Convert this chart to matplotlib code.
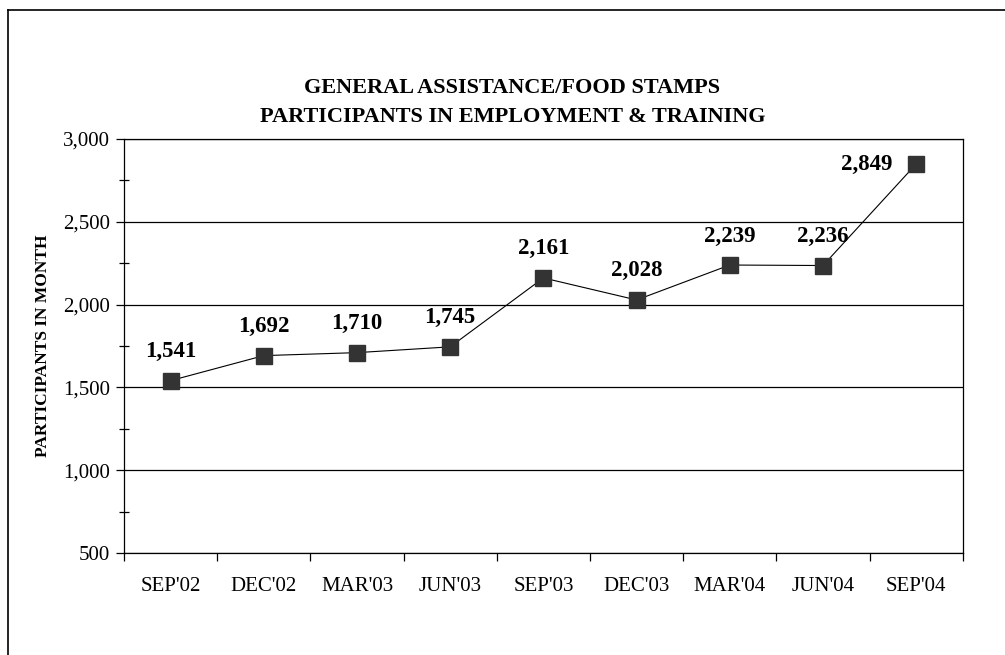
import matplotlib.pyplot as plt
from matplotlib.ticker import MultipleLocator, FixedLocator, FuncFormatter
from matplotlib.lines import Line2D

plt.rcParams["font.family"] = ["Liberation Serif", "DejaVu Serif"]

quarters = ["SEP'02", "DEC'02", "MAR'03", "JUN'03", "SEP'03",
            "DEC'03", "MAR'04", "JUN'04", "SEP'04"]
participants = [1541, 1692, 1710, 1745, 2161, 2028, 2239, 2236, 2849]

fig = plt.figure(figsize=(10.05, 6.55), dpi=100)
ax = fig.add_axes([0.1234, 0.1557, 0.8346, 0.6321])

# outer frame, only left and top edges are visible
fig.add_artist(Line2D([0.008, 0.008], [0.0, 0.985], transform=fig.transFigure, color="black", lw=1.2))
fig.add_artist(Line2D([0.008, 1.0], [0.985, 0.985], transform=fig.transFigure, color="black", lw=1.2))

x = list(range(len(quarters)))
ax.plot(x, participants, color="black", lw=0.8, marker="s", markersize=11.5,
        markerfacecolor="#333333", markeredgecolor="#333333", zorder=3)

for i, v in enumerate(participants):
    off = (-49, 0) if i == len(participants) - 1 else (0, 29)
    ax.annotate(f"{v:,}", (i, v), xytext=off, textcoords="offset pixels",
                ha="center", va="center", fontsize=16.5, fontweight="bold")

ax.set_xlim(-0.5, len(quarters) - 0.5)
ax.set_ylim(500, 3000)
ax.yaxis.set_major_locator(MultipleLocator(500))
ax.yaxis.set_minor_locator(MultipleLocator(250))
ax.yaxis.set_major_formatter(FuncFormatter(lambda v, p: f"{int(v):,}"))
ax.grid(axis="y", which="major", color="black", lw=0.9)
ax.set_axisbelow(True)

ax.set_xticks(x)
ax.set_xticklabels(quarters, fontsize=15)
ax.tick_params(axis="x", which="major", length=0, pad=17)
ax.xaxis.set_minor_locator(FixedLocator([i + 0.5 for i in range(-1, len(quarters))]))
ax.tick_params(axis="x", which="minor", length=6, direction="out", width=0.9)
ax.tick_params(axis="y", which="major", length=6, direction="out", width=0.9, labelsize=15, pad=4)
ax.tick_params(axis="y", which="minor", length=7, direction="inout", width=0.9)

for s in ax.spines.values():
    s.set_linewidth(0.9)

ax.set_ylabel("PARTICIPANTS IN MONTH", fontsize=12.5, fontweight="bold", labelpad=9)

fig.text(0.51, 0.866, "GENERAL ASSISTANCE/FOOD STAMPS", ha="center", va="center",
         fontsize=16, fontweight="bold")
fig.text(0.51, 0.821, "PARTICIPANTS IN EMPLOYMENT & TRAINING", ha="center", va="center",
         fontsize=16, fontweight="bold")

plt.savefig("out.png", dpi=100)
